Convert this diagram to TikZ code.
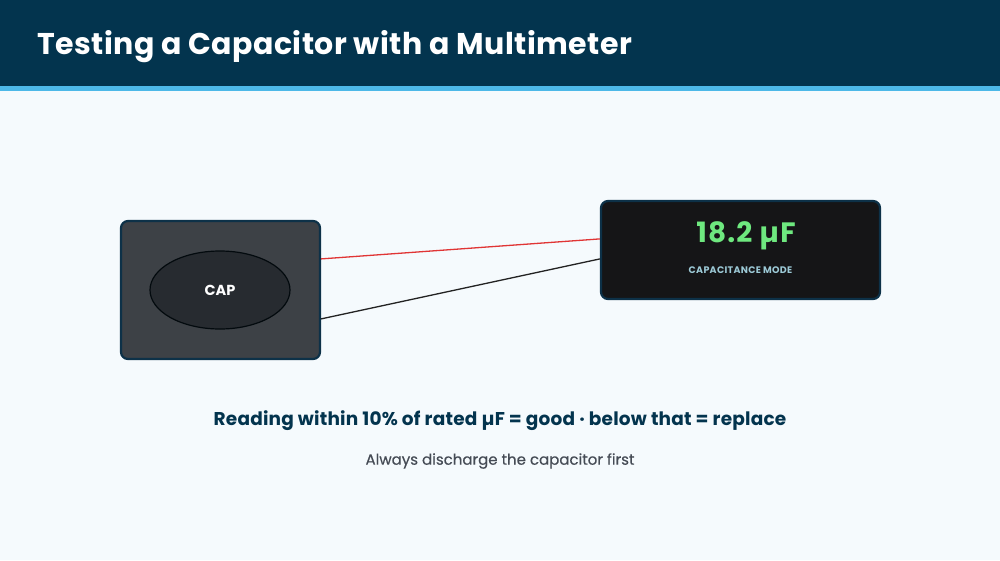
\documentclass[tikz,border=0pt]{standalone}
\usepackage{fontspec}
\setmainfont{Poppins}
\usetikzlibrary{shapes.geometric,calc}
\definecolor{hdr}{HTML}{03344E}
\definecolor{stripe}{HTML}{4DB8E8}
\definecolor{bg}{HTML}{F5FAFD}
\definecolor{capbox}{HTML}{3D4146}
\definecolor{capell}{HTML}{272B30}
\definecolor{edge}{HTML}{0D3148}
\definecolor{meter}{HTML}{151517}
\definecolor{lcd}{HTML}{6EE87F}
\definecolor{modecol}{HTML}{9CC9D6}
\definecolor{wred}{HTML}{E03535}
\definecolor{wblack}{HTML}{222222}
\definecolor{subcol}{HTML}{454B55}
\tikzset{
  panel/.style={draw=edge, line width=2.2pt, rounded corners=7pt, inner sep=0pt},
  wire/.style={line width=1.3pt},
}
\begin{document}
\begin{tikzpicture}[x=1pt,y=-1pt]
\useasboundingbox (0,0) rectangle (1000,560);
\fill[bg] (0,0) rectangle (1000,560);
\fill[hdr] (0,0) rectangle (1000,86);
\fill[stripe] (0,86) rectangle (1000,91);
\node[anchor=west, inner sep=0pt, text=white, font=\bfseries\fontsize{30}{34}\selectfont\addfontfeatures{LetterSpace=1.5}] (title) at (37,47) {Testing a Capacitor with a Multimeter};

\node[panel, fill=capbox, minimum width=199pt, minimum height=138pt] (lbox) at (220.5,290) {};
\node[ellipse, draw=black!80!edge, line width=1.2pt, fill=capell, minimum width=140pt, minimum height=78pt, inner sep=0pt, text=white, font=\bfseries\fontsize{14.5}{17}\selectfont] (cap) at (220,290) {CAP};

\node[panel, fill=meter, minimum width=279pt, minimum height=98pt] (rbox) at (740.5,250) {};
\node[text=lcd, font=\bfseries\fontsize{28}{32}\selectfont\addfontfeatures{LetterSpace=4}] (reading) at (746,236) {18.2 µF};
\node[text=modecol, font=\bfseries\fontsize{9.5}{11}\selectfont\addfontfeatures{LetterSpace=3}] (mode) at (740.5,270) {CAPACITANCE MODE};

\coordinate (l1) at ($(lbox.north east)+(0,39)$);
\coordinate (l2) at ($(lbox.north east)+(0,99)$);
\coordinate (r1) at ($(rbox.north west)+(0,39)$);
\coordinate (r2) at ($(rbox.north west)+(0,59)$);
\draw[wire, wred] (l1) -- (r1);
\draw[wire, wblack] (l2) -- (r2);

\node[text=hdr, font=\bfseries\fontsize{18.5}{22}\selectfont\addfontfeatures{LetterSpace=1}] (rule) at (500,421) {Reading within 10\% of rated µF = good · below that = replace};
\node[text=subcol, font=\fontsize{15}{18}\selectfont\addfontfeatures{FakeBold=0.4}] (note) at (500,461) {Always discharge the capacitor first};
\end{tikzpicture}
\end{document}
